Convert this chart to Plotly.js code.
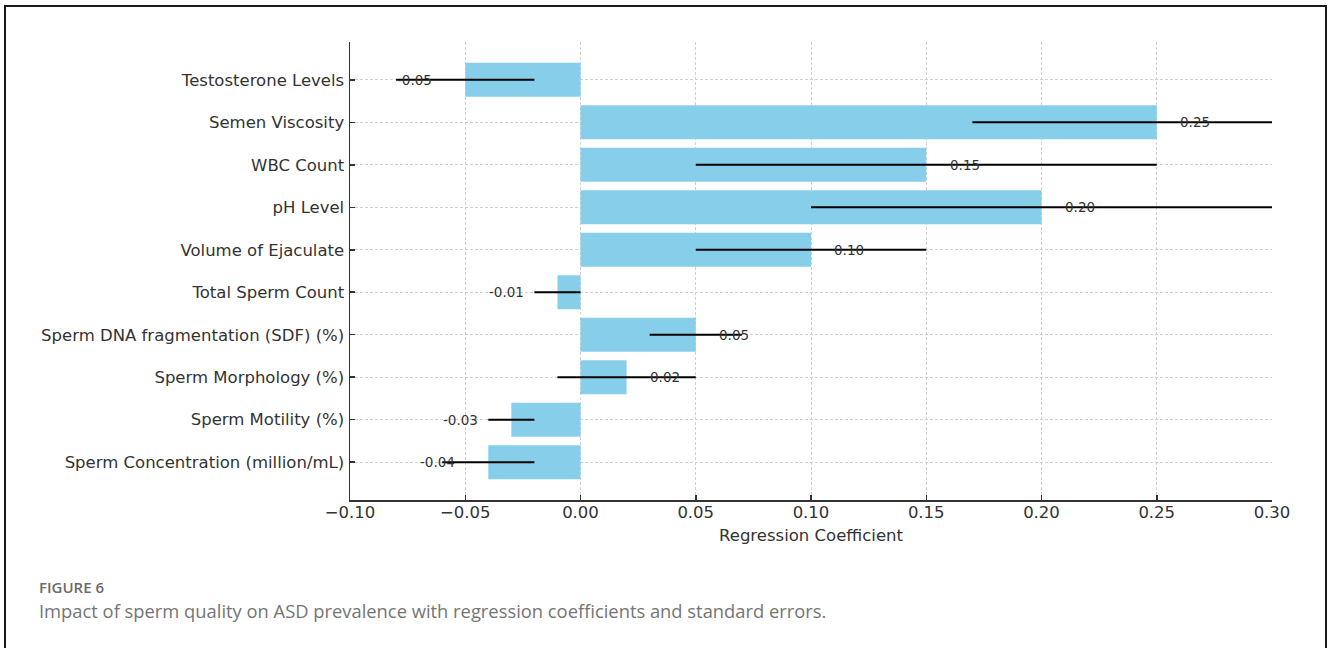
<!DOCTYPE html>
<html>
<head>
<meta charset="utf-8">
<script src="https://cdn.plot.ly/plotly-3.0.1.min.js"></script>
<style>
  html, body { margin: 0; padding: 0; background: #fff; }
  #wrap { position: relative; width: 1328px; height: 648px; overflow: hidden; }
  #plot { position: absolute; left: 0; top: 0; width: 1328px; height: 648px; }
  #frame { position: absolute; left: 4px; top: 5px; width: 1323px; height: 720px;
           border: 2px solid #1a1a1a; box-sizing: border-box; pointer-events: none; }
</style>
</head>
<body>
<div id="wrap">
  <div id="plot"></div>
  <div id="frame"></div>
</div>
<script>
// Data (bottom to top, as plotted)
const categories = [
  "Sperm Concentration (million/mL)",
  "Sperm Motility (%)",
  "Sperm Morphology (%)",
  "Sperm DNA fragmentation (SDF) (%)",
  "Total Sperm Count",
  "Volume of Ejaculate",
  "pH Level",
  "WBC Count",
  "Semen Viscosity",
  "Testosterone Levels"
];
const coefficients = [-0.04, -0.03, 0.02, 0.05, -0.01, 0.10, 0.20, 0.15, 0.25, -0.05];
const standardErrors = [0.02, 0.01, 0.03, 0.02, 0.01, 0.05, 0.10, 0.10, 0.08, 0.03];
const xTickValues = [-0.10, -0.05, 0.00, 0.05, 0.10, 0.15, 0.20, 0.25, 0.30];

const FONT = "DejaVu Sans, Verdana, sans-serif";
const TXT = "#333333";

const trace = {
  type: "bar",
  orientation: "h",
  x: coefficients,
  y: categories,
  width: 0.8,
  marker: { color: "#87CEEB", line: { width: 0 } },
  error_x: { type: "data", array: standardErrors, visible: true,
             color: "#000000", thickness: 2, width: 0 },
  hoverinfo: "x+y"
};

const annotations = coefficients.map((v, i) => ({
  xref: "x", yref: "y",
  x: v > 0 ? v + 0.0167 : v - 0.022,
  y: categories[i],
  text: v.toFixed(2),
  showarrow: false,
  xanchor: "center", yanchor: "middle",
  font: { family: FONT, size: 13.5, color: TXT }
}));

annotations.push({
  xref: "paper", yref: "paper", x: 0, y: 0, xshift: -313, yshift: -87,
  xanchor: "left", yanchor: "middle", showarrow: false,
  text: "FIGURE 6",
  font: { family: "Open Sans, Noto Sans, sans-serif", size: 15, color: "#6a6a6a", weight: 600 }
});
annotations.push({
  xref: "paper", yref: "paper", x: 0, y: 0, xshift: -313, yshift: -110,
  xanchor: "left", yanchor: "middle", showarrow: false,
  text: "Impact of sperm quality on ASD prevalence with regression coefficients and standard errors.",
  font: { family: "Open Sans, Noto Sans, sans-serif", size: 18.35, color: "#757575" }
});

const layout = {
  width: 1328, height: 648,
  margin: { l: 350, r: 56, t: 42, b: 148, pad: 0 },
  paper_bgcolor: "#ffffff",
  plot_bgcolor: "#ffffff",
  showlegend: false,
  font: { family: FONT, color: TXT },
  xaxis: {
    range: [-0.10, 0.30],
    tickmode: "array",
    tickvals: xTickValues,
    ticktext: xTickValues.map(v => (v < 0 ? "\u2212" : "") + Math.abs(v).toFixed(2)),
    ticks: "inside", ticklen: 5, tickwidth: 1.5, tickcolor: "#333333",
    showline: true, linecolor: "#333333", linewidth: 1.5, mirror: false,
    showgrid: true, gridcolor: "#d0d0d0", gridwidth: 1, griddash: "3px,2px",
    zeroline: false,
    ticklabelstandoff: -3,
    tickfont: { family: FONT, size: 16.5, color: TXT },
    title: { text: "Regression Coefficient", standoff: 8,
             font: { family: FONT, size: 16.5, color: TXT } }
  },
  yaxis: {
    type: "category",
    categoryorder: "array",
    categoryarray: categories,
    range: [-0.89, 9.89],
    ticks: "inside", ticklen: 5, tickwidth: 1.5, tickcolor: "#333333",
    showline: true, linecolor: "#333333", linewidth: 1.5, mirror: false,
    showgrid: true, gridcolor: "#d0d0d0", gridwidth: 1, griddash: "3px,2px",
    zeroline: false,
    ticklabelstandoff: 1,
    tickfont: { family: FONT, size: 16.5, color: TXT }
  },
  annotations: annotations
};

Plotly.newPlot("plot", [trace], layout, { displayModeBar: false, staticPlot: true });
</script>
</body>
</html>
